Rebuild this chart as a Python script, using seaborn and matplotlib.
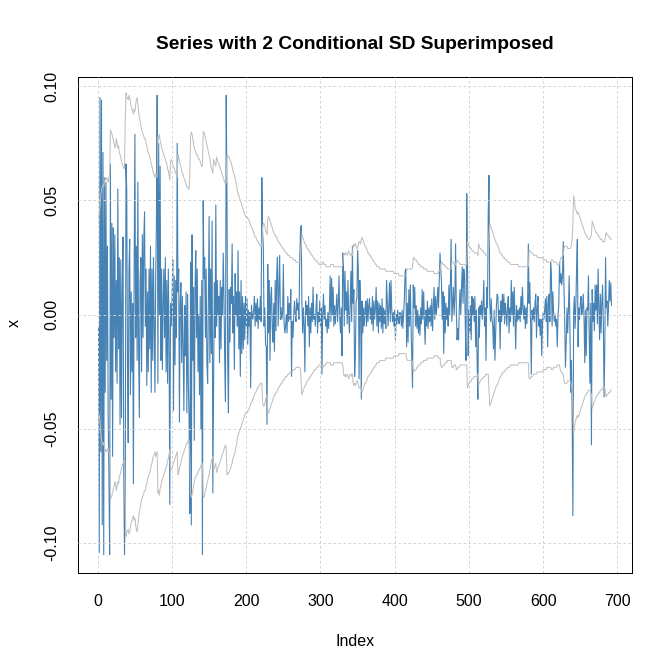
#!/usr/bin/env python3

# Series with 2 conditional SD bands, redrawn from a fGarch style plot.
# Values, in thousandths.

import numpy as np
import pandas as pd
import matplotlib
matplotlib.use('Agg')
import matplotlib.pyplot as plt
import seaborn as sns

# the series x (x 1e-3), index 1..692
series_milli = [
	-5, -104, 95, -60, 94, -92, 71, -105, 60, -34, 58, -20, 30, -45, -70, -105, 66, -37, 40, -62,  # 1
	38, -10, 35, -25, 15, -30, 55, -15, 25, -48, 24, -45, 12, 34, -69, -105, -82, 66, 55, -20,  # 21
	-56, 20, 33, -35, 10, -25, 5, -74, 20, 79, -10, 30, -20, 58, -15, -45, 15, 25, -25, 35,  # 41
	-10, 33, 45, -5, 20, -31, 10, -25, 20, -15, 30, -34, 20, -20, 25, -5, -34, 15, 40, 96,  # 61
	-30, 75, 0, 65, -20, 20, -24, 5, 20, -10, 25, -25, 15, -30, 20, -10, -83, 5, -5, 5,  # 81
	24, -42, 17, -22, 15, -10, 75, 10, 20, -47, 5, 14, -21, 8, -15, -42, 4, -18, 10, -43,  # 101
	9, -30, -45, -87, 23, -92, 35, -20, 12, -55, 10, 28, -10, 20, -25, 0, -35, 8, -50, 15,  # 121
	-105, 50, 16, 25, -10, 20, -21, -30, 5, 43, -21, 20, -17, 41, -78, -35, 14, -10, 48, -5,  # 141
	15, 0, 8, -21, 15, -15, 12, 0, 27, 8, -20, -38, 96, 53, -20, -43, 11, -12, 12, 5,  # 161
	31, -8, 8, -24, 18, 0, 10, -5, 28, -15, 10, -27, 15, -17, 8, -15, 5, -11, 8, -5,  # 181
	7, -13, 2, -5, 1, -32, 4, 0, -2, 2, 8, -5, 5, -3, 7, -6, 3, -2, 8, -3,  # 201
	60, 36, 30, -5, 3, -13, -14, -48, 22, -8, 15, -20, 8, 12, -6, -12, 5, -16, 15, -7,  # 221
	17, 25, -5, 10, 26, -2, 3, -2, 1, 22, -4, -8, -5, 0, -8, 8, -3, 5, -2, 11,  # 241
	-27, -3, -10, 0, 6, 0, -3, 7, 2, 5, -2, 23, 36, 39, 5, -8, 3, -5, -25, 6,  # 261
	0, 4, -5, 8, -14, 3, -8, 5, -3, 12, -2, 0, -5, 3, 9, -8, 1, -3, 6, -5,  # 281
	3, -26, 0, 9, -2, 4, -5, -2, -8, 1, -6, 2, 17, -3, 16, 0, 12, -5, 4, -4,  # 301
	3, 9, -3, 5, 17, -2, -8, 3, -18, 27, 20, -5, 19, 2, 10, -4, 15, 0, -8, 5,  # 321
	19, -3, 30, 5, 11, -27, -18, 6, 7, 28, 20, -28, 15, 3, -37, 6, -8, 3, -5, 2,  # 341
	6, -5, 7, -3, 4, 7, -2, 3, -4, 8, -7, 6, -2, 3, 12, -5, 6, -8, 5, -3,  # 361
	4, -6, 7, -8, 3, -4, 2, -6, 15, 6, -5, 3, 14, -3, 15, 2, -3, 1, -5, 2,  # 381
	-11, 0, -4, 2, -2, -4, 1, 0, -5, 2, -6, 1, 7, 19, 20, -14, 5, -12, 11, -5,  # 401
	13, -5, -18, -32, 13, 3, 12, -5, 4, -6, 2, -8, 0, -9, 3, -4, 11, -2, 10, -3,  # 421
	-13, 2, -5, 6, -6, 3, -3, 4, -5, 7, -7, 3, 12, -2, 8, 0, 5, 12, 3, 15,  # 441
	27, 20, 14, -2, 10, -17, 8, -8, 5, -2, 3, -5, 13, 0, 14, 33, -3, 5, 12, 0,  # 461
	8, 31, 2, -11, -6, -11, 3, 11, 0, 12, 21, 5, 20, 17, -3, -20, 53, 24, -18, 2,  # 481
	-8, 4, -11, 8, 0, 7, -3, 8, -14, 2, -20, -37, 3, -10, 4, 0, 6, -2, 4, 15,  # 501
	-5, 3, -20, 12, 3, 45, 61, 5, -3, 7, -2, -5, -15, 2, -20, -8, 4, 9, 8, -3,  # 521
	2, -15, 6, -3, 9, 0, 9, -4, 5, 1, -5, 4, 8, -8, 3, -3, 15, 0, 10, -5,  # 541
	12, -2, -15, 4, -3, 2, -2, 3, -3, 8, 0, 12, 3, -2, 4, -6, 3, -4, 6, 31,  # 561
	5, 14, -3, -26, 2, -2, 3, -3, 5, 9, -10, 3, 8, -5, -2, -9, -2, -18, -5, 1,  # 581
	-2, 2, 7, -3, 8, -14, 5, 9, -3, 23, 18, -5, 10, 1, -3, 0, -5, -2, -14, 0,  # 601
	4, 23, 14, 18, 13, 17, 32, 12, -3, -23, -12, 3, -8, 2, 17, -5, -34, -20, -43, -88,  # 621
	1, 8, -6, 4, 20, 33, -14, 3, -2, 5, 8, 0, 3, 9, -1, -21, 2, -18, 3, 2,  # 641
	17, -10, -30, 5, -57, 11, -3, 5, -7, 13, 2, 13, -4, 20, 3, -11, 9, -8, 5, 13,  # 661
	-3, -36, -15, 25, 3, 6, -5, 3, 15, 6, 14, 4,  # 681
]

# 2 * conditional SD (x 1e-3), same index
two_sd_milli = [
	43, 44, 47, 52, 55, 56, 57, 56, 58, 60, 59, 60, 59, 58, 60, 61, 81, 80, 79, 78,  # 1
	76, 75, 73, 74, 77, 75, 73, 74, 71, 70, 69, 67, 66, 65, 64, 64, 85, 97, 95, 95,  # 21
	94, 96, 95, 93, 91, 90, 89, 88, 90, 89, 92, 94, 95, 92, 89, 86, 85, 83, 81, 80,  # 41
	79, 78, 77, 77, 75, 74, 72, 71, 70, 69, 68, 66, 65, 63, 62, 61, 60, 62, 61, 60,  # 61
	78, 77, 79, 76, 75, 73, 72, 71, 70, 69, 68, 67, 66, 64, 63, 61, 59, 67, 68, 67,  # 81
	66, 65, 64, 63, 62, 61, 60, 70, 69, 67, 66, 65, 63, 62, 61, 60, 59, 58, 57, 56,  # 101
	56, 55, 55, 62, 78, 80, 79, 77, 75, 73, 72, 71, 70, 70, 69, 68, 68, 67, 66, 65,  # 121
	65, 80, 80, 79, 77, 76, 74, 73, 71, 70, 68, 66, 64, 63, 62, 68, 67, 66, 65, 69,  # 141
	68, 67, 66, 65, 64, 63, 62, 61, 60, 59, 58, 57, 58, 70, 70, 69, 69, 68, 67, 66,  # 161
	65, 63, 62, 61, 60, 58, 57, 54, 53, 52, 51, 50, 49, 48, 47, 46, 45, 44, 43, 43,  # 181
	43, 42, 42, 41, 40, 39, 38, 38, 37, 36, 35, 34, 34, 33, 32, 32, 31, 31, 30, 30,  # 201
	30, 38, 40, 40, 39, 37, 36, 35, 42, 43, 42, 41, 40, 39, 38, 37, 36, 35, 35, 34,  # 221
	34, 33, 32, 32, 31, 31, 30, 30, 29, 29, 28, 28, 27, 27, 27, 26, 26, 26, 25, 25,  # 241
	25, 25, 24, 24, 24, 24, 23, 23, 23, 23, 23, 23, 24, 30, 35, 34, 33, 32, 31, 31,  # 261
	30, 29, 29, 28, 28, 27, 27, 26, 26, 25, 25, 24, 24, 24, 23, 23, 23, 22, 22, 22,  # 281
	22, 22, 23, 23, 22, 22, 22, 21, 21, 21, 21, 21, 21, 22, 22, 22, 22, 21, 21, 21,  # 301
	21, 21, 21, 21, 21, 21, 21, 21, 21, 22, 26, 27, 26, 27, 27, 26, 27, 28, 27, 26,  # 321
	26, 27, 26, 30, 31, 30, 31, 30, 29, 29, 31, 32, 32, 31, 33, 34, 33, 32, 31, 30,  # 341
	30, 29, 28, 27, 27, 26, 26, 25, 25, 24, 24, 23, 23, 22, 22, 21, 21, 21, 21, 20,  # 361
	20, 20, 20, 20, 20, 20, 20, 19, 19, 19, 19, 19, 19, 19, 19, 19, 19, 19, 18, 18,  # 381
	18, 18, 18, 18, 18, 17, 17, 17, 17, 17, 17, 17, 17, 17, 17, 19, 20, 20, 20, 20,  # 401
	20, 20, 20, 21, 25, 25, 24, 24, 24, 23, 23, 22, 22, 22, 21, 21, 21, 21, 20, 20,  # 421
	20, 20, 20, 19, 19, 19, 19, 19, 19, 19, 19, 19, 18, 18, 18, 18, 18, 18, 19, 19,  # 441
	19, 22, 23, 23, 22, 22, 22, 21, 21, 21, 20, 20, 20, 20, 20, 20, 23, 23, 23, 22,  # 461
	22, 22, 24, 24, 23, 23, 23, 22, 22, 22, 22, 22, 22, 22, 22, 22, 22, 32, 31, 30,  # 481
	30, 29, 29, 28, 28, 28, 27, 27, 27, 27, 27, 26, 31, 30, 29, 29, 28, 28, 28, 27,  # 501
	27, 27, 26, 26, 26, 26, 33, 40, 39, 38, 37, 36, 35, 34, 33, 32, 31, 31, 30, 29,  # 521
	28, 27, 27, 26, 26, 25, 25, 25, 24, 24, 24, 23, 23, 23, 23, 22, 22, 22, 22, 22,  # 541
	22, 22, 22, 22, 22, 22, 21, 21, 21, 21, 21, 21, 21, 21, 21, 21, 21, 21, 21, 21,  # 561
	28, 28, 28, 27, 27, 27, 26, 26, 26, 26, 26, 25, 25, 25, 25, 25, 25, 25, 25, 24,  # 581
	24, 24, 24, 24, 23, 23, 23, 23, 23, 23, 24, 24, 24, 23, 23, 23, 23, 23, 22, 22,  # 601
	22, 22, 24, 25, 25, 26, 26, 29, 30, 30, 30, 30, 29, 29, 29, 29, 29, 31, 33, 40,  # 621
	52, 50, 47, 46, 45, 44, 45, 44, 43, 42, 41, 40, 39, 38, 37, 36, 35, 35, 34, 34,  # 641
	33, 33, 33, 34, 35, 41, 40, 39, 38, 37, 36, 36, 35, 35, 34, 34, 33, 33, 33, 32,  # 661
	32, 32, 32, 35, 36, 35, 35, 34, 34, 34, 33, 33,  # 681
]

mu = 0.0  # fitted mean, looks like ~0
x_ticks = [0, 100, 200, 300, 400, 500, 600, 700]
y_ticks = [-0.10, -0.05, 0.00, 0.05, 0.10]
y_tick_labels = ['-0.10', '-0.05', '0.00', '0.05', '0.10']

title = 'Series with 2 Conditional SD Superimposed'

W, H = 672, 671
DPI = 100
PX = 72.0 / DPI  # points per pixel

sns.set_theme(style='white')
plt.rcParams['font.family'] = ['Liberation Sans', 'DejaVu Sans']
plt.rcParams['font.size'] = 16 * PX
plt.rcParams['text.color'] = 'black'

series = pd.DataFrame({'Index': np.arange(1, len(series_milli) + 1),
					   'x': np.array(series_milli) / 1000.0})
band = pd.DataFrame({'Index': np.arange(1, len(two_sd_milli) + 1),
					 'upper': mu + np.array(two_sd_milli) / 1000.0,
					 'lower': mu - np.array(two_sd_milli) / 1000.0})

fig = plt.figure(figsize=(W / DPI, H / DPI), dpi=DPI)
fig.patch.set_facecolor('white')
# plot region in pixels: left 78, right 632, top 77, bottom 572
ax = fig.add_axes([78 / W, 1 - 573 / H, (632 - 78) / W, (573 - 77) / H])

sns.lineplot(data=series, x='Index', y='x', color='#4682B4', linewidth=1.1 * PX,
			 ax=ax, zorder=2)
sns.lineplot(data=band, x='Index', y='upper', color='#BEBEBE', linewidth=PX,
			 ax=ax, zorder=4)
sns.lineplot(data=band, x='Index', y='lower', color='#BEBEBE', linewidth=PX,
			 ax=ax, zorder=4)

# R style 4% axis extension
n = len(series_milli)
xr = n - 1
ax.set_xlim(1 - 0.04 * xr, n + 0.04 * xr)
ymin, ymax = series['x'].min(), series['x'].max()
yr = ymax - ymin
ax.set_ylim(ymin - 0.04 * yr, ymax + 0.04 * yr)

# grid() in lightgray dotted, drawn over the series
for xt in x_ticks:
	ax.axvline(xt, color='#D3D3D3', linewidth=PX, linestyle=(0, (2.5, 2.5)), zorder=3)
for yt in y_ticks:
	ax.axhline(yt, color='#D3D3D3', linewidth=PX, linestyle=(0, (2.5, 2.5)), zorder=3)

ax.set_xticks(x_ticks, labels=[str(t) for t in x_ticks])
ax.set_yticks(y_ticks, labels=y_tick_labels)
ax.tick_params(axis='both', direction='out', length=10 * PX, width=PX, color='black',
			   labelsize=16 * PX, labelcolor='black')
ax.tick_params(axis='x', pad=11 * PX)
ax.tick_params(axis='y', pad=9 * PX, labelrotation=90)
for lab in ax.get_yticklabels():
	lab.set_va('center')

for s in ax.spines.values():
	s.set_visible(True)
	s.set_color('black')
	s.set_linewidth(PX)

ax.set_xlabel('')
ax.set_ylabel('')
fig.text(355 / W, 1 - 646 / H, 'Index', ha='center', va='baseline', fontsize=16 * PX,
		 color='black')
fig.text(14 / W, 1 - 323 / H, 'x', ha='center', va='center', rotation=90, fontsize=16 * PX,
		 color='black')
fig.text(355 / W, 1 - 49 / H, title, ha='center', va='baseline',
		 fontsize=19.2 * PX, fontweight='bold', color='black')

plt.savefig('out.png', dpi=DPI, facecolor='white')
